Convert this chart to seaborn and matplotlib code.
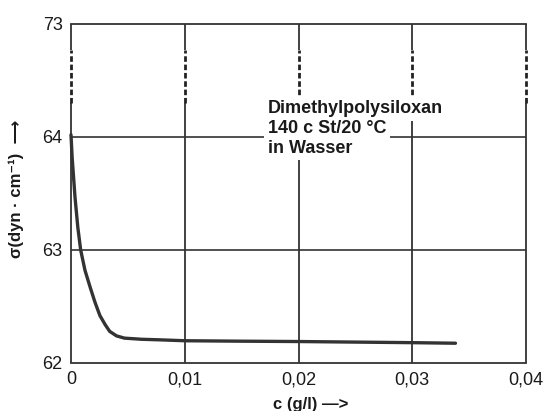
import matplotlib
matplotlib.use("Agg")
import matplotlib.pyplot as plt
import seaborn as sns
import pandas as pd

# ---- data ----
conc = [0.0, 0.0001, 0.0002, 0.00035, 0.0006, 0.00085, 0.00123, 0.00167,
        0.0021, 0.00254, 0.003, 0.0034, 0.004, 0.0047, 0.0062, 0.0078,
        0.01, 0.015, 0.02, 0.025, 0.03, 0.0338]
sigma = [64.02, 63.82, 63.68, 63.47, 63.20, 63.00, 62.82, 62.675,
         62.54, 62.42, 62.34, 62.28, 62.24, 62.22, 62.21, 62.205,
         62.197, 62.193, 62.19, 62.185, 62.18, 62.175]

x_ticks = [0.0, 0.01, 0.02, 0.03, 0.04]
x_labels = ["0", "0,01", "0,02", "0,03", "0,04"]
y_ticks = [62, 63, 64, 65]          # 65 = broken-axis top, labelled 73
y_labels = ["62", "63", "64", "73"]
note_lines = ["Dimethylpolysiloxan", "140 c St/20 °C", "in Wasser"]

sns.set_theme(style="white")
plt.rcParams["font.family"] = ["Liberation Sans", "DejaVu Sans"]

fig = plt.figure(figsize=(5.47, 4.11), dpi=100)
ax = fig.add_axes([71 / 547, 1 - 363 / 411, (526 - 71) / 547, (363 - 24) / 411])

df = pd.DataFrame({"c": conc, "sigma": sigma})
sns.lineplot(data=df, x="c", y="sigma", ax=ax, color="#333333",
             linewidth=2.4, zorder=5, estimator=None, sort=False)
for ln in ax.get_lines():
    ln.set_solid_joinstyle("round")
    ln.set_solid_capstyle("round")
    ln.set_clip_on(False)

ax.set_xlim(x_ticks[0], x_ticks[-1])
ax.set_ylim(y_ticks[0], y_ticks[-1])

gc = "#333333"
# horizontal grid lines
ax.hlines(y_ticks[1:3], x_ticks[0], x_ticks[-1], colors=gc, linewidth=1.2, zorder=2)
# vertical lines with axis break (dashed part)
brk_lo, brk_hi = 64.3, 64.77
ax.vlines(x_ticks, y_ticks[0], brk_lo, colors=gc, linewidth=1.3, zorder=2,
          clip_on=False)
ax.vlines(x_ticks, brk_hi, y_ticks[-1], colors=gc, linewidth=1.3, zorder=2,
          clip_on=False)
ax.vlines(x_ticks, brk_lo, brk_hi, colors="#222222", linewidth=2.0,
          linestyles=(0, (2.0, 1.0)), zorder=2, clip_on=False)

for s in ["left", "right"]:
    ax.spines[s].set_visible(False)
for s in ["top", "bottom"]:
    ax.spines[s].set_color(gc)
    ax.spines[s].set_linewidth(1.3)

ax.set_xticks(x_ticks)
ax.set_xticklabels(x_labels)
ax.set_yticks(y_ticks)
ax.set_yticklabels(y_labels)
ax.tick_params(axis="both", length=0, labelsize=13, colors="#1a1a1a")
ax.tick_params(axis="y", pad=6)
ax.tick_params(axis="x", pad=6)
ax.set_xlabel("")
ax.set_ylabel("")
ax.grid(False)

# annotation with white background
baselines = [64.21, 64.035, 63.86]
for txt, yb in zip(note_lines, baselines):
    ax.text(0.0173, yb, txt, fontsize=13, fontweight="bold", color="#1a1a1a",
            va="baseline", ha="left", zorder=6,
            bbox=dict(facecolor="white", edgecolor="none", pad=2.5))

fig.text(311 / 547, 1 - 404 / 411, "c (g/l) —>", fontsize=12, fontweight="bold",
         ha="center", va="center", color="#1a1a1a")
fig.text(16 / 547, 1 - 189 / 411, "σ(dyn · cm⁻¹)  ⟶", fontsize=12,
         fontweight="bold", rotation=90, ha="center", va="center", color="#1a1a1a")

fig.savefig("out.png", dpi=100, facecolor="white")
